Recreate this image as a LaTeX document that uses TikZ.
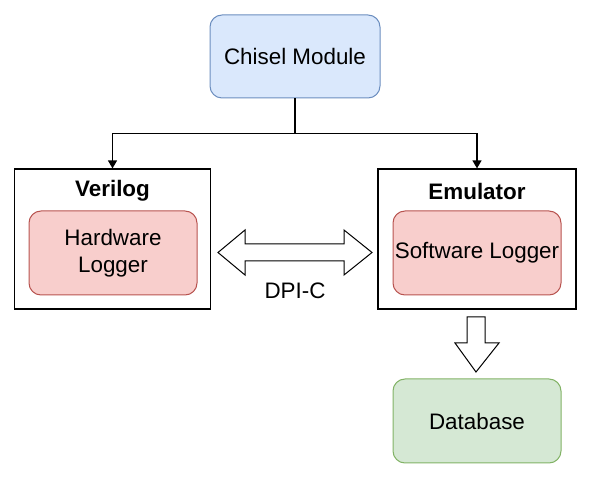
\documentclass[tikz,border=0pt]{standalone}
\usepackage{fontspec}
\setmainfont{Liberation Sans}
\usepackage{tikz}
\usetikzlibrary{positioning,arrows.meta}
\definecolor{chiselfill}{HTML}{DAE8FC}
\definecolor{chiseldraw}{HTML}{6C8EBF}
\definecolor{loggerfill}{HTML}{F8CECC}
\definecolor{loggerdraw}{HTML}{B85450}
\definecolor{dbfill}{HTML}{D5E8D4}
\definecolor{dbdraw}{HTML}{82B366}

\begin{document}
\begin{tikzpicture}[x=1pt,y=1pt]
\tikzstyle{every node}+=[inner sep=0pt, font=\fontsize{22.4}{27}\selectfont]
\tikzstyle{roundbox}=[draw, rounded corners=12pt, line width=1pt, align=center, minimum width=168pt, minimum height=84pt]
\tikzstyle{outerbox}=[draw, black, line width=1.2pt, minimum width=196pt, minimum height=140pt]
\tikzstyle{feed}=[black, line width=1.3pt, -{Triangle[length=8pt,width=9pt]}]
\tikzstyle{blockarrow}=[draw, black, line width=1pt, fill=white, line join=miter]
\useasboundingbox (0,0) rectangle (590,-478);
\node [roundbox, draw=chiseldraw, fill=chiselfill, minimum width=170pt, minimum height=83pt] (chisel) at (295,-56.5) {Chisel Module};
\node [outerbox] (verilog) at (112.5,-239) {};
\node [outerbox, minimum width=198pt] (emulator) at (477,-239) {};
\node [font=\fontsize{22.4}{27}\selectfont\bfseries] (veriloglabel) at (112.5,-191) {Verilog};
\node [font=\fontsize{22.4}{27}\selectfont\bfseries] (emulatorlabel) at (477,-191) {Emulator};
\node [roundbox, draw=loggerdraw, fill=loggerfill] (hwlog) at (113,-253) {Hardware\\Logger};
\node [roundbox, draw=loggerdraw, fill=loggerfill] (swlog) at (477,-253) {Software Logger};
\node [roundbox, draw=dbdraw, fill=dbfill] (db) at (477,-421) {Database};
\draw [feed] (chisel.south) -- ++(0,-35) coordinate (split) -| (verilog.north);
\draw [feed] (split) -| (emulator.north);
% DPI-C link
\draw [blockarrow] (218,-252.5) -- (245,-230) -- (245,-244) -- (344,-244) -- (344,-230) -- (372,-252.5)
  -- (344,-275) -- (344,-261) -- (245,-261) -- (245,-275) -- cycle;
\node (dpic) at (295,-291) {DPI-C};
% to database
\draw [blockarrow] (467,-317) -- (485,-317) -- (485,-343) -- (499,-343) -- (476,-372) -- (455,-343) -- (467,-343) -- cycle;
\end{tikzpicture}
\end{document}
